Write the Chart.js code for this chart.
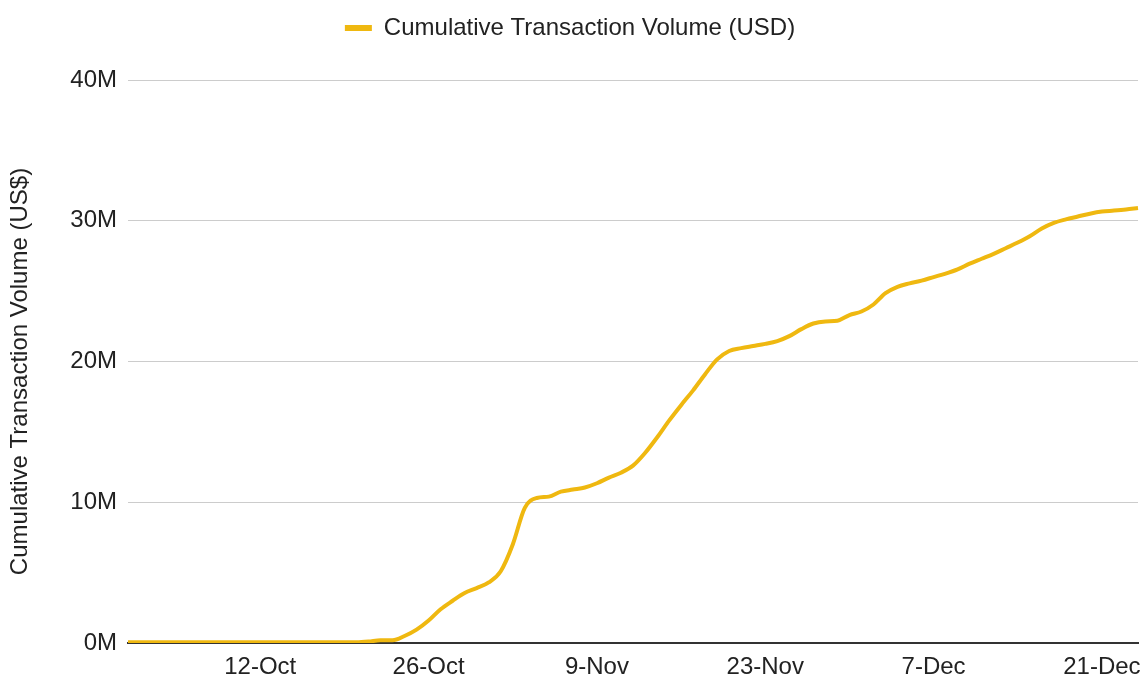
<!DOCTYPE html>
<html>
<head>
<meta charset="utf-8">
<title>Cumulative Transaction Volume</title>
<script src="https://cdn.jsdelivr.net/npm/chart.js@4.4.1/dist/chart.umd.min.js"></script>
<style>
    html, body { margin: 0; padding: 0; background: #ffffff; }
    .chart-wrap { position: relative; width: 1140px; height: 681px; }
</style>
</head>
<body>
<div class="chart-wrap">
    <canvas id="volumeChart"></canvas>
</div>
<script>
// daily points, 1-Oct through 24-Dec
const months = ['Oct', 'Nov', 'Dec'];
const monthDays = [31, 30, 31];
const days = [];
for (let m = 0; m < months.length; m++) {
    for (let d = 1; d <= monthDays[m]; d++) {
        days.push(d + '-' + months[m]);
        if (months[m] === 'Dec' && d === 24) break;
    }
}

// cumulative volume, millions of USD
const volumeM = [
    0.05, 0.05, 0.05, 0.05, 0.05, 0.05, 0.05, 0.05, 0.05, 0.05,
    0.05, 0.05, 0.05, 0.05, 0.05, 0.05, 0.05, 0.05, 0.05, 0.05,
    0.1, 0.2, 0.2, 0.5, 0.95, 1.6, 2.4, 3.0, 3.55, 3.9,
    4.3, 5.1, 7.0, 9.6, 10.3, 10.4, 10.75, 10.9, 11.05, 11.35,
    11.75, 12.1, 12.6, 13.5, 14.6, 15.8, 16.9, 17.95, 19.1, 20.15,
    20.75, 20.95, 21.1, 21.25, 21.45, 21.8, 22.3, 22.7, 22.85, 22.9,
    23.3, 23.55, 24.05, 24.85, 25.3, 25.55, 25.75, 26.0, 26.25, 26.55,
    26.95, 27.3, 27.65, 28.05, 28.45, 28.9, 29.45, 29.85, 30.1, 30.3,
    30.5, 30.65, 30.72, 30.8, 30.9
];

const xTickLabels = ['12-Oct', '26-Oct', '9-Nov', '23-Nov', '7-Dec', '21-Dec'];
const yTicks = [0, 10, 20, 30, 40];

const lineColor = '#efb810';
const textColor = '#222222';
const fontFamily = "'Liberation Sans', Arial, sans-serif";

// push the plot area down below the legend
const legendGap = {
    id: 'legendGap',
    beforeInit(chart) {
        const origFit = chart.legend.fit;
        chart.legend.fit = function fit() {
            origFit.bind(chart.legend)();
            this.height += 30;
        };
    }
};

const ctx = document.getElementById('volumeChart').getContext('2d');
new Chart(ctx, {
    type: 'line',
    data: {
        labels: days,
        datasets: [{
            label: 'Cumulative Transaction Volume (USD)',
            data: volumeM,
            borderColor: lineColor,
            backgroundColor: lineColor,
            borderWidth: 4,
            pointRadius: 0,
            cubicInterpolationMode: 'monotone',
            fill: false
        }]
    },
    options: {
        responsive: true,
        maintainAspectRatio: false,
        animation: false,
        layout: {
            padding: { top: 6, right: 0, bottom: 0, left: 0 }
        },
        plugins: {
            legend: {
                position: 'top',
                labels: {
                    boxWidth: 27,
                    boxHeight: 6,
                    padding: 10,
                    color: textColor,
                    font: { family: fontFamily, size: 24 },
                    generateLabels(chart) {
                        const items = Chart.defaults.plugins.legend.labels.generateLabels(chart);
                        items.forEach(item => { item.lineWidth = 0; });
                        return items;
                    }
                }
            },
            tooltip: { enabled: false }
        },
        scales: {
            x: {
                offset: false,
                grid: { display: false, drawTicks: true, tickLength: 8 },
                border: { display: true, color: '#333333', width: 2 },
                afterFit(scale) { scale.height = 38; },
                ticks: {
                    autoSkip: false,
                    maxRotation: 0,
                    minRotation: 0,
                    padding: 2,
                    color: textColor,
                    font: { family: fontFamily, size: 24 },
                    callback: function (value) {
                        const label = this.getLabelForValue(value);
                        return xTickLabels.includes(label) ? label : '';
                    }
                }
            },
            y: {
                min: yTicks[0],
                max: yTicks[yTicks.length - 1],
                afterBuildTicks(scale) {
                    scale.ticks = yTicks.map(v => ({ value: v }));
                },
                afterFit(scale) { scale.width = 128; },
                grid: { color: '#cccccc', lineWidth: 1, drawTicks: false },
                border: { display: false },
                ticks: {
                    padding: 11,
                    color: textColor,
                    font: { family: fontFamily, size: 24 },
                    callback: v => v + 'M'
                },
                title: {
                    display: true,
                    // trailing spaces nudge the rotated title a little lower
                    text: 'Cumulative Transaction Volume (US$)   ',
                    color: textColor,
                    font: { family: fontFamily, size: 24 },
                    padding: { top: 6, bottom: 0 }
                }
            }
        }
    },
    plugins: [legendGap]
});
</script>
</body>
</html>
